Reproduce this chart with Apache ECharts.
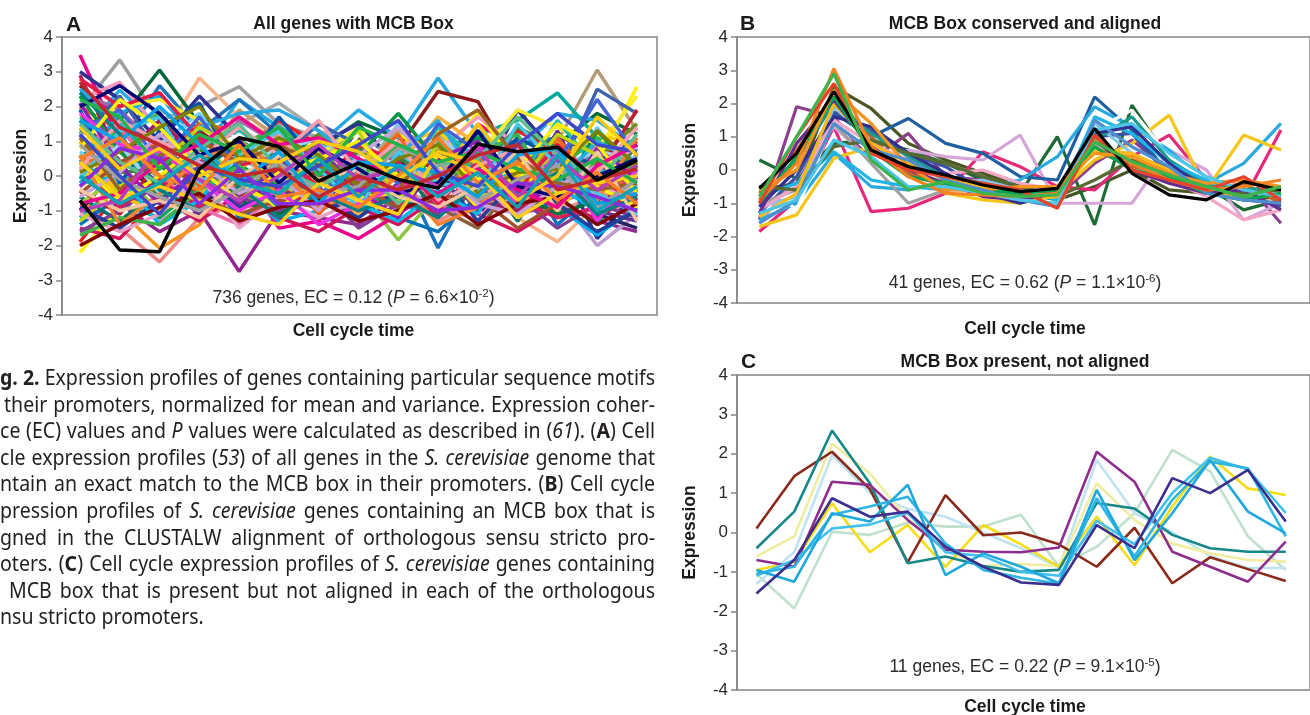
<!DOCTYPE html>
<html><head><meta charset="utf-8">
<script src="https://cdn.jsdelivr.net/npm/echarts@6/dist/echarts.min.js"></script>
<style>html,body{margin:0;padding:0;background:#fff;}#c{width:1310px;height:715px;}</style>
</head><body><div id="c"></div>
<script>
// ---------------- DATA ----------------
const timePoints = [0,1,2,3,4,5,6,7,8,9,10,11,12,13,14];
const yTicks = [-4,-3,-2,-1,0,1,2,3,4];

const panelTitles = ['All genes with MCB Box','MCB Box conserved and aligned','MCB Box present, not aligned'];
const panelLetters = ['A','B','C'];
const statGenes = ['736 genes, EC = 0.12 (','41 genes, EC = 0.62 (','11 genes, EC = 0.22 ('];
const statP = ['6.6×10','1.1×10','9.1×10'];
const statExp = ['-2','-6','-5'];

// Panel A (sample of the 736 profiles, black profile last)
const aValues = [
 [1.9,3.34,1.6,2.0,2.57,1.5,1.1,0.6,0.9,0.2,0.5,-0.2,0.4,0.3,-0.3],
 [0.8,1.2,1.9,1.3,1.5,2.1,1.3,0.8,0.2,-0.5,0.1,-0.6,-0.3,-0.9,-0.5],
 [-1.2,-0.8,-1.6,-1.0,-2.75,-1.0,-1.2,-1.4,-0.6,-0.9,-0.3,-1.1,-0.8,-1.3,-1.6],
 [1.0,0.2,1.0,2.82,1.7,1.0,0.3,0.5,-0.2,-0.6,0.3,-1.2,-1.89,-0.8,0.1],
 [-1.0,-1.5,-2.47,-1.2,-0.8,-1.1,-0.6,-1.0,-0.5,-1.3,-0.7,-0.3,-1.0,-0.6,-1.2],
 [0.5,1.6,3.05,1.5,1.0,0.2,0.8,1.56,1.1,0.6,1.3,0.3,0.9,1.8,1.2],
 [0.3,0.8,0.2,-0.5,0.4,0.9,0.1,-0.4,0.6,1.2,0.4,0.1,1.0,3.05,1.3],
 [1.2,2.47,1.4,0.6,2.2,1.4,0.9,1.9,1.1,2.82,1.2,0.7,1.8,1.6,0.8],
 [2.6,1.6,0.9,1.3,0.5,0.0,-0.4,0.3,0.8,2.43,2.14,0.2,1.2,0.5,0.6],
 [-0.3,0.9,2.6,1.3,2.2,1.2,0.7,-0.2,0.3,-2.07,0.1,0.9,1.1,-0.4,0.3],
 [0.2,-0.4,0.6,1.1,0.3,-0.5,0.2,1.0,0.6,0.5,1.2,1.6,2.39,1.1,0.5],
 [1.3,0.2,1.1,0.7,0.2,-0.6,-0.9,-0.4,-1.84,-0.5,0.7,0.2,-0.3,0.9,0.4],
 [3.48,1.0,0.5,-0.4,0.2,-1.5,-1.3,-1.8,-1.1,-0.3,1.5,0.8,0.3,-0.6,-0.2],
 [-0.9,-0.4,-1.3,-0.6,-1.0,-0.2,0.4,-0.9,-0.3,-0.9,-0.2,-1.0,-0.5,-2.0,-1.1],
 [3.0,2.2,1.0,2.3,1.1,0.5,0.9,1.5,0.3,0.9,-0.3,1.9,0.6,-1.8,-0.4],
 [-2.2,-0.9,-0.3,0.4,-0.4,-0.7,-0.9,0.3,1.2,0.6,1.8,0.3,-0.2,0.4,2.57],
 [-0.8,-1.0,-2.08,-1.4,0.1,0.0,-0.3,0.5,-0.6,0.4,-0.4,0.6,1.0,-0.2,0.1],
 [0.1,-0.3,-0.8,-0.9,0.08,0.08,-0.4,-0.2,0.9,1.3,0.2,-0.5,0.5,1.2,0.9],
 [2.2,2.7,1.3,0.9,0.3,1.2,-0.1,0.4,1.0,0.7,1.7,0.9,0.1,0.6,-0.3],
 [-1.9,-0.4,0.8,1.1,0.6,1.6,0.9,-0.1,-0.4,0.8,0.1,1.3,0.7,0.2,1.0],
 [1.4,0.8,0.1,-0.7,0.6,-0.2,0.7,1.1,0.4,-0.9,-1.5,-0.2,0.6,0.3,-0.6],
 [0.4,1.8,2.3,1.0,-0.4,-1.3,-1.0,-0.5,0.2,0.5,-0.8,-0.4,-0.9,-1.7,-0.9],
 [0.9,0.5,-0.6,-0.2,-0.9,0.4,1.2,0.2,-0.7,-0.1,0.7,-0.8,-0.2,0.5,1.5],
 [-0.5,-1.2,0.1,1.9,-0.5,0.9,0.2,0.6,-0.3,0.0,0.9,0.4,0.6,-0.4,0.7],
 [-1.4,-0.6,-0.9,0.3,-1.2,-0.8,0.1,-0.6,-1.2,-1.6,-0.6,0.5,-1.4,-0.4,-1.0],
 [1.7,1.1,1.8,0.4,0.9,1.4,0.6,-0.6,0.2,1.0,-0.3,0.7,0.2,1.1,0.2],
 [-0.2,0.6,-0.2,-1.1,-0.3,0.5,-0.6,-1.2,-0.2,0.3,-1.0,-0.7,1.3,-1.0,-1.3],
 [2.0,1.3,0.4,1.5,1.3,0.7,0.5,-0.7,-0.8,0.2,-0.9,0.0,-0.6,0.7,-0.8],
 [-0.6,-1.3,-0.4,0.2,0.9,0.3,-0.7,0.7,0.5,-1.2,0.3,-1.3,0.4,0.0,0.8],
 [0.7,-0.2,0.9,1.8,0.7,-0.4,1.0,0.0,1.5,0.3,-0.6,0.9,-0.8,1.4,-0.1],
 [-1.5,-1.8,-0.6,-1.3,-0.5,-1.2,-1.6,-0.9,-1.4,-0.6,-1.1,-1.6,-0.9,-1.2,-0.5],
 [0.0,-0.5,0.3,-0.4,-0.7,-1.1,-0.4,-0.9,0.1,-0.6,0.5,-0.5,-1.1,-0.7,-0.9],
 [1.5,2.0,2.2,1.6,0.8,-0.3,0.6,1.4,0.0,-0.3,0.6,1.9,1.4,0.8,2.3],
 [2.4,1.9,0.8,0.1,1.6,0.9,0.4,-0.3,-1.0,0.6,-0.5,-0.1,-0.8,-0.3,0.6],
 [1.1,2.3,0.6,-0.6,-0.1,0.5,1.5,0.9,0.7,-0.5,0.8,1.0,0.0,2.5,1.8],
 [-0.3,0.4,1.5,0.7,-0.8,0.6,-0.2,-1.1,0.3,1.7,0.9,-0.9,0.2,-0.5,-0.4],
 [0.6,-0.8,-1.2,-0.3,0.4,-0.8,-0.3,-0.4,-0.9,0.9,-0.2,0.4,-0.6,-1.4,0.3],
 [-1.0,0.3,-0.4,-0.8,-0.2,-0.4,-0.8,0.1,0.4,-0.2,0.0,-0.4,0.9,-1.1,-1.5],
 [0.9,1.4,0.0,-0.9,-1.4,-0.5,0.3,-0.6,0.7,-0.8,-1.3,0.2,-0.4,0.9,-0.7],
 [-1.2,-0.2,0.7,0.9,1.3,0.1,-0.5,0.4,-0.1,1.4,0.5,-0.2,1.6,0.2,-0.2],
 [2.9,0.5,1.6,0.5,-0.2,-0.7,0.2,-0.3,-0.6,0.1,-0.7,-1.0,0.0,-0.8,0.0],
 [0.2,1.0,-0.1,0.2,1.9,1.1,-0.2,0.2,1.3,0.8,0.0,0.5,-0.1,-0.9,0.6],
 [-0.8,0.0,-0.9,-0.1,-0.6,-0.9,0.7,-0.2,-0.4,0.4,-0.9,-0.3,0.7,-0.2,-0.8],
 [1.9,-0.2,1.3,2.1,0.1,1.7,0.3,1.0,-0.2,0.7,-0.1,1.1,0.5,0.4,1.1],
 [1.2,0.6,-1.0,0.6,1.2,0.3,-0.5,1.2,0.2,-0.4,-0.2,0.8,-0.5,0.5,-0.2],
 [-0.4,-1.1,0.5,-0.2,-0.6,0.2,0.0,-0.5,0.6,0.2,-0.5,-0.9,-0.3,0.1,1.9],
 [2.3,0.7,-0.3,1.2,0.3,-0.3,1.0,0.6,1.8,0.4,1.1,0.6,-0.7,1.3,0.1],
 [-1.6,-1.0,-0.2,0.6,-0.6,-1.0,-0.3,-1.5,-0.8,-1.1,-0.4,-0.6,-1.5,-0.8,-1.2],
 [0.0,0.9,-0.5,-0.3,0.5,0.7,1.1,0.3,-0.5,1.1,0.3,-0.4,0.3,0.7,0.5],
 [1.0,-0.6,-1.0,-0.5,0.2,1.0,0.5,0.9,-0.1,-0.1,1.5,0.0,-1.0,0.2,0.9],
 [0.4,-0.9,-0.1,-0.9,-0.4,-0.3,-1.0,-0.2,-0.8,-1.0,0.2,-0.7,-1.2,-0.9,-0.6],
 [-0.9,-1.5,-0.7,0.1,-0.9,-0.5,-0.6,-1.2,-0.4,0.1,-1.3,-0.1,-0.8,-1.6,-1.0],
 [0.5,0.3,1.0,-0.3,-0.3,0.3,-1.1,0.1,1.2,-0.7,0.6,-0.6,1.1,-0.3,0.4],
 [-0.2,0.0,-1.4,-0.7,0.7,-0.1,0.6,-0.8,-1.3,-0.4,-1.1,0.9,-0.3,-1.0,-0.3],
 [1.6,0.1,0.2,0.8,-0.3,0.8,-0.7,0.8,0.5,0.0,0.2,1.4,0.8,-0.6,0.9],
 [-1.1,-1.6,-1.1,0.0,-1.5,-0.6,-1.2,-0.7,0.3,-0.8,-0.1,-1.2,-0.1,-0.5,-0.3],
 [2.5,1.5,0.3,1.4,1.8,1.9,1.3,0.4,0.6,1.6,-0.1,0.3,-0.2,1.0,0.4],
 [-0.5,0.4,0.9,-0.6,-1.1,-0.7,-0.9,-0.3,-0.9,-0.6,-0.6,-1.5,-0.8,0.4,-0.4],
 [0.3,-0.7,0.0,0.9,-0.2,-0.9,-0.2,-0.6,-0.5,0.3,-0.9,0.1,-0.5,-0.3,-0.9],
 [2.8,2.0,2.4,1.1,0.3,0.6,-0.3,0.9,0.4,-0.8,0.4,-0.4,0.9,-0.1,-0.7],
 [-1.7,-1.2,-1.4,-0.4,0.3,-0.6,0.6,-0.1,0.9,-0.3,0.6,1.2,-0.7,0.5,0.2],
 [1.3,1.9,0.4,1.7,0.2,-0.9,-0.6,0.5,-0.2,1.5,0.7,-0.6,0.4,2.2,0.6],
 [0.6,-1.4,-0.5,0.5,1.0,0.2,-0.9,-0.5,0.0,-1.4,-0.9,0.3,-0.2,-0.7,1.1],
 [2.1,0.3,-0.8,0.3,-0.8,0.4,0.8,-0.4,-1.2,0.5,1.0,-0.2,-0.9,0.8,-0.1],
 [-0.1,1.3,1.7,-0.2,0.6,1.3,0.2,-0.9,0.7,-0.2,-0.4,1.5,0.3,-0.5,-1.1],
 [1.8,0.9,0.7,-0.1,-1.0,-0.4,-1.4,-0.8,-0.3,0.0,0.9,-0.9,0.7,-1.3,0.2],
 [-1.3,-0.3,0.3,1.4,0.8,-0.2,0.4,1.3,-0.7,0.9,-0.6,-0.3,1.2,0.6,-0.4],
 [0.2,1.6,1.0,0.5,1.4,0.6,1.6,0.1,1.0,-0.7,0.3,0.8,-0.4,0.1,1.4],
 [2.4,1.2,-0.4,-1.0,-0.3,-1.2,-0.5,-1.0,-0.6,-1.2,-0.2,-0.5,0.1,-1.1,-0.6],
 [-0.6,0.1,1.2,0.4,-0.5,0.0,-1.0,0.6,1.4,0.2,-0.8,-1.1,-0.3,0.3,0.8],
 [1.1,-0.4,0.6,1.0,0.4,0.9,0.3,-0.2,-0.4,1.2,1.9,0.5,-0.2,-0.4,-0.2],
 [0.8,2.2,1.4,0.2,-0.7,0.1,0.5,1.0,0.0,0.6,-0.1,0.2,1.5,0.9,-0.5],
 [-2.0,-1.4,-0.9,-0.5,-1.3,-0.9,-0.7,-1.3,-1.0,-0.5,-1.4,-0.8,-0.6,-1.4,-0.8],
 [1.5,0.4,-0.2,0.8,1.5,0.2,-0.3,0.3,-0.8,0.3,0.5,1.7,0.6,-0.2,1.2],
 [0.1,0.7,1.4,2.0,0.5,1.1,0.6,-0.3,0.5,0.9,-0.5,0.1,0.2,1.3,0.3],
 [-0.4,-1.0,-0.7,-1.2,0.0,0.6,-0.1,0.2,-0.6,-0.9,-0.3,0.7,-1.0,0.7,-1.3],
 [2.0,2.6,1.8,0.6,1.0,-0.2,0.8,0.2,-0.5,-0.2,1.3,-0.3,-0.6,0.0,0.5],
 [0.9,-0.1,-0.6,-1.0,-0.4,0.4,-0.5,-0.3,0.8,0.4,-0.7,-0.1,0.3,-0.9,-0.1],
 [-0.8,-0.5,0.4,0.9,1.7,0.9,1.1,0.5,-0.1,-0.5,0.2,-0.4,-0.9,0.3,0.9],
 [1.6,1.0,2.0,0.9,-0.2,0.7,-0.8,0.4,0.3,0.1,-0.6,0.6,0.8,-0.8,-0.5],
 [0.4,-0.6,-0.3,-0.7,-1.1,-1.4,-0.2,-0.7,-1.1,0.6,0.1,-1.2,-0.5,-0.2,0.0],
 [2.2,1.7,0.2,1.2,0.7,1.4,0.0,1.4,0.9,0.4,0.7,0.2,-0.1,0.5,-0.2],
 [-1.0,-0.7,0.9,-0.1,-0.7,0.0,0.9,-0.1,0.2,-0.3,0.8,-0.6,0.5,-0.4,0.3],
 [0.5,1.1,0.0,-0.4,0.9,-0.6,-0.4,-0.9,0.0,1.1,-0.2,0.4,-0.7,0.1,-0.8],
 [1.2,0.0,-1.1,0.3,-0.1,-0.3,0.3,0.9,1.6,0.1,-0.3,0.9,1.8,0.9,0.7],
 [-0.3,0.8,0.5,-0.8,0.2,-0.8,-0.8,-0.4,-0.4,-1.0,-0.9,-0.2,-0.3,-0.6,-1.0],
 [1.4,0.2,0.8,0.0,0.5,0.4,1.0,0.7,-0.1,0.7,0.4,-0.7,0.0,1.7,0.6],
 [0.0,-0.8,-0.2,0.6,-0.2,-0.5,0.5,-0.6,0.3,-0.6,0.1,-0.9,0.6,-1.0,-0.3],
 [2.7,1.4,0.9,0.3,0.0,0.2,-0.6,0.0,-0.4,0.0,0.6,0.9,-0.4,-0.1,0.2],
 [-0.7,-2.13,-2.18,0.2,1.1,0.85,-0.15,0.37,-0.1,-0.35,0.92,0.7,0.83,-0.12,0.45]
];
const aColors = ['#9d9fa2','#a7a9ac','#92278f','#f7b58a','#f08a86','#006838','#b39b76','#27aae1','#8b1a1a','#1c75bc',
 '#00a99d','#8dc63f','#ec008c','#bd9dd0','#2e3192','#fff200','#f7941d','#ffd200','#f49ac1','#ed1c24',
 '#8b5e3c','#00aeef','#6b8e23','#ffffff','#0072bc','#39b54a','#662d91','#f15a29','#00746b','#6dcff6',
 '#d4145a','#00703c','#f9ed32','#a864a8','#3f60ae','#fbb040','#00a651','#262262','#f06eaa','#1cbbb4',
 '#9e1f63','#c69c6d','#a6ce39','#0054a6','#ffffff','#be1e2d','#009444','#7f3f98','#9bd3f0','#ffc20e',
 '#da1c5c','#21409a','#f26522','#00b7eb','#3d7f3d','#e7a3c8','#29abe2','#a0522d','#fff200',
 '#e6194b','#3cb44b','#4363d8','#f58231','#911eb4','#46c8e8','#f032e6','#bcd60c','#f9a0b0','#008080',
 '#c9a0dc','#9a6324','#fff200','#800000','#5fbf8f','#808000','#f7c59f','#000075','#a0a0a0','#ed008c',
 '#00a2e8','#fdd017','#22b14c','#b83dba','#ff7f27','#3f48cc','#8a2be2','#ffc90e','#0ba3b6','#c1272d',
 '#000000'];

// Panel B (41 genes; black profile then green drawn on top)
const bValues = [
 [-0.6,-0.4,2.5,1.85,0.8,0.3,-0.1,-0.5,-0.9,-0.5,0.0,-0.6,-0.7,-0.9,-0.8],
 [0.3,-0.25,0.8,0.9,0.6,0.2,-0.3,-0.7,1.0,-1.65,1.95,0.3,-0.5,-1.2,-0.9],
 [-1.85,-0.9,1.3,-1.25,-1.15,-0.7,0.55,0.1,-0.5,-0.6,0.4,1.05,-0.3,-0.9,1.2],
 [-1.5,1.9,1.6,0.3,1.1,-0.2,-0.3,-0.5,-0.8,0.2,0.9,0.0,-0.4,-0.3,-1.6],
 [-1.6,-0.2,1.3,0.3,0.6,0.4,0.3,1.05,-1.0,-1.0,-1.0,0.6,0.0,-1.5,-1.0],
 [-1.2,-0.5,1.7,1.0,1.55,0.8,0.5,-0.2,-0.3,2.2,1.2,-0.1,-0.3,-0.6,-0.8],
 [-1.5,-1.0,0.5,-0.5,-0.6,-0.3,-0.5,-0.3,0.4,1.9,1.3,0.6,-0.4,0.2,1.4],
 [-1.7,-1.35,0.35,0.7,-0.2,-0.7,-0.9,-1.0,-0.7,0.3,0.8,1.65,-0.6,1.05,0.6],
 [-0.3,-1.2,1.5,0.5,-0.3,-0.4,-0.7,-0.8,-1.2,1.2,1.8,0.4,-0.3,-0.6,-0.4],
 [-1.3,-0.2,1.75,1.2,0.5,0.1,-0.6,-0.8,-0.6,1.0,1.1,-0.2,-0.7,-0.8,-1.1],
 [-1.0,-0.6,1.4,0.2,-1.0,-0.6,-0.6,-0.7,-0.5,0.8,0.3,-0.4,-0.6,-0.9,-0.6],
 [-1.1,-0.8,1.9,0.9,-0.1,-0.4,-0.3,-0.6,-0.8,1.4,0.5,-0.3,-0.5,-0.7,-0.7],
 [-0.7,0.6,2.2,1.0,-0.1,-0.5,-0.5,-0.7,-0.6,0.6,0.1,-0.1,-0.6,-0.4,-1.0],
 [-1.2,-0.5,1.5,0.8,0.3,-0.1,0.0,-0.4,-0.6,0.7,0.3,-0.3,-0.8,-1.5,-1.2],
 [-0.9,0.3,2.0,1.1,0.4,-0.2,-0.4,-0.7,-0.9,0.9,1.6,0.3,-0.4,-0.6,-0.5],
 [-0.8,-0.4,0.55,-0.3,-0.5,-0.6,-0.5,-0.6,-0.9,1.6,1.1,0.2,-0.3,-0.9,-0.7],
 [-1.1,0.0,1.6,1.3,0.5,-0.1,-0.7,-1.0,-0.7,1.1,1.3,0.2,-0.6,-0.9,-1.0],
 [-0.5,-0.6,0.7,0.9,0.5,0.2,-0.2,-0.5,-0.8,-0.3,0.3,-0.1,-0.5,-0.7,-0.6],
 [-1.4,-0.7,2.0,0.8,0.2,-0.3,-0.5,-0.9,-0.8,0.6,0.5,0.0,-0.6,-0.9,-0.7],
 [-1.3,0.8,2.1,0.7,0.0,-0.4,-0.8,-0.9,-0.7,0.9,0.0,-0.4,-0.7,-0.6,-1.2],
 [-1.0,0.4,2.2,0.6,-0.2,-0.4,-0.6,-0.7,-0.6,0.7,0.0,-0.2,-0.7,-0.9,-0.7],
 [-0.6,0.0,2.4,1.4,0.1,-0.6,-0.6,-0.5,-0.5,0.5,0.4,-0.1,-0.4,-0.3,-0.5],
 [-1.6,-0.9,1.4,0.6,0.3,-0.3,-0.6,-0.9,-1.1,1.5,0.7,0.1,-0.7,-0.9,-1.0],
 [-1.3,-0.9,0.9,0.4,-0.5,-0.5,-0.7,-0.9,-1.0,1.2,1.4,0.5,-0.2,-0.6,-0.8],
 [-0.9,0.2,3.05,0.7,-0.2,-0.7,-0.75,-0.8,-0.7,0.9,0.2,-0.3,-0.6,-0.5,-0.3],
 [-1.0,1.0,2.6,0.5,0.0,-0.2,-0.4,-0.6,-1.15,1.05,0.0,-0.3,-0.6,-0.2,-0.9],
 [-0.55,0.5,2.36,0.6,0.1,-0.15,-0.45,-0.65,-0.55,1.25,-0.1,-0.75,-0.9,-0.35,-0.6],
 [-0.8,1.0,2.9,0.3,-0.6,-0.35,-0.7,-0.8,-0.75,0.85,0.25,-0.15,-0.5,-0.8,-0.5]
];
const bColors = ['#4a5524','#1e6b35','#e6287a','#8e3f8e','#d7a6d8','#1f5fa0','#29a9e0','#f5c518','#ffffff','#3a53a4',
 '#a0a0a0','#7fc6e8','#c8642a','#f4a6c6','#1a9a8a','#1fb5e8','#2e3192','#556b2f','#fdb913','#662d91',
 '#00a651','#f7941d','#4f8fcf','#4cc6e8','#f58220','#e8432a','#000000','#3cb44b'];

// Panel C (11 genes)
const cValues = [
 [-1.05,-1.93,0.02,-0.06,0.25,0.15,0.15,0.45,-0.87,-0.36,0.49,2.1,1.55,-0.1,-0.95],
 [-1.3,-0.5,1.97,1.0,0.6,0.4,0.0,-0.4,-0.9,1.84,0.5,0.0,-0.6,-0.9,-0.9],
 [-0.61,-0.1,2.26,1.5,0.35,-0.45,-0.85,-0.8,-0.85,1.25,0.32,-0.28,-0.53,-0.7,-0.74],
 [-0.95,-0.75,0.74,-0.5,0.19,-0.87,0.19,-0.3,-0.87,0.4,-0.83,0.66,1.93,1.12,0.95],
 [0.1,1.43,2.05,1.1,-0.76,0.95,-0.07,0.0,-0.3,-0.87,0.12,-1.29,-0.63,-0.93,-1.23],
 [-0.4,0.53,2.59,1.25,-0.78,-0.61,-0.85,-1.0,-0.95,0.75,0.61,-0.06,-0.4,-0.49,-0.49],
 [-0.7,-0.87,1.29,1.21,0.32,-0.44,-0.49,-0.5,-0.38,2.05,1.29,-0.49,-0.87,-1.25,-0.23],
 [-1.1,-0.7,0.1,0.2,0.5,-0.5,-0.6,-1.0,-1.1,0.3,-0.3,1.0,1.9,1.6,0.5],
 [-1.04,-0.87,0.45,0.66,0.91,-0.28,-0.95,-1.15,-1.3,0.87,-0.61,0.83,1.8,1.63,-0.1],
 [-0.95,-1.25,0.49,0.28,1.21,-1.08,-0.53,-0.87,-1.29,1.08,-0.7,0.49,1.84,0.53,-0.02],
 [-1.55,-0.7,0.87,0.4,0.53,-0.36,-0.87,-1.27,-1.33,0.19,-0.4,1.38,1.0,1.59,0.28]
];
const cColors = ['#bfe0cc','#bfe3f2','#f0eca0','#f5dc14','#8b2a1a','#17888a','#8e2d8e','#42c0ee','#2cb5e5','#1ea8de','#3a2e8f'];

// Caption (left part of the figure legend, cropped at the left edge)
const captionLines = [
 "*g. 2.* Expression profiles of genes containing particular sequence motifs",
 "their promoters, normalized for mean and variance. Expression coher-",
 "ce (EC) values and _P_ values were calculated as described in (_61_). (*A*) Cell",
 "cle expression profiles (_53_) of all genes in the _S. cerevisiae_ genome that",
 "ntain an exact match to the MCB box in their promoters. (*B*) Cell cycle",
 "pression profiles of _S. cerevisiae_ genes containing an MCB box that is",
 "gned in the CLUSTALW alignment of orthologous sensu stricto pro-",
 "oters. (*C*) Cell cycle expression profiles of _S. cerevisiae_ genes containing",
 "MCB box that is present but not aligned in each of the orthologous",
 "nsu stricto promoters."
];
const captionStartX = [0,4,0,0,0,0,0,0,9,0];

// ---------------- LAYOUT ----------------
const FONT = '"Liberation Sans", Arial, Helvetica, sans-serif';
const AX = '#858585';
const TXT = '#2b2b2b';
const grids = [
  {left:62, top:37, width:595, height:278, xmin:-0.452, xmax:14.503},
  {left:737, top:37, width:590, height:266, xmin:-0.6, xmax:14.78},
  {left:737, top:375, width:590, height:315, xmin:-0.514, xmax:14.642}
];
const lineWidths = [3.5, 3.2, 2.6];

const chart = echarts.init(document.getElementById('c'), null, {renderer:'canvas'});

const option = {
  animation:false,
  backgroundColor:'#ffffff',
  grid: grids.map(g => ({left:g.left, top:g.top, width:g.width, height:g.height, show:true,
      borderColor:AX, borderWidth:1.5, backgroundColor:'transparent', containLabel:false})),
  xAxis: grids.map((g,i) => ({type:'value', gridIndex:i, min:g.xmin, max:g.xmax,
      axisLine:{show:false}, axisTick:{show:false}, axisLabel:{show:false}, splitLine:{show:false}})),
  yAxis: grids.map((g,i) => ({type:'value', gridIndex:i, min:yTicks[0], max:yTicks[yTicks.length-1], interval:1,
      position:'left',
      axisLine:{show:true, onZero:false, lineStyle:{color:AX, width:1.5}},
      axisTick:{show:true, length:6, lineStyle:{color:AX, width:1.5}},
      axisLabel:{show:true, fontSize:17, color:TXT, fontFamily:FONT, margin:9},
      splitLine:{show:false}})),
  series: [],
  graphic: []
};

function addSeries(idx, valuesList, colors) {
  valuesList.forEach((vals, k) => {
    option.series.push({
      type:'line', xAxisIndex:idx, yAxisIndex:idx,
      data: vals.map((v, i) => [timePoints[i], v]),
      symbol:'none', showSymbol:false, silent:true, clip:true,
      lineStyle:{color:colors[k], width:lineWidths[idx]},
      itemStyle:{color:colors[k]},
      emphasis:{disabled:true}
    });
  });
}
addSeries(0, aValues, aColors);
addSeries(1, bValues, bColors);
addSeries(2, cValues, cColors);

// Panel texts
const letterPos = [[66,25],[740,24],[741,362]];
const titleY = [24,24,362];
const statY = [298,283,667];
const xTitleY = [331,329,707];
grids.forEach((g, i) => {
  const cx = g.left + (i === 0 ? g.width/2 - 6 : 288);
  option.graphic.push({type:'text', x:letterPos[i][0], y:letterPos[i][1], silent:true,
    style:{text:panelLetters[i], fontSize:21, fontWeight:'bold', fontFamily:FONT, fill:'#1a1a1a', align:'left', verticalAlign:'middle'}});
  option.graphic.push({type:'text', x:cx, y:titleY[i], silent:true,
    style:{text:panelTitles[i], fontSize:17.5, fontWeight:'bold', fontFamily:FONT, fill:'#1a1a1a', align:'center', verticalAlign:'middle'}});
  option.graphic.push({type:'text', x:cx, y:statY[i], silent:true,
    style:{text:'{n|' + statGenes[i] + '}{i|P}{n| = ' + statP[i] + '}{s|' + statExp[i] + '}{n|)}',
      align:'center', verticalAlign:'middle', fill:TXT,
      rich:{
        n:{fontSize:17.5, fontFamily:FONT, fill:TXT, lineHeight:20},
        i:{fontSize:17.5, fontFamily:FONT, fontStyle:'italic', fill:TXT, lineHeight:20},
        s:{fontSize:11.5, fontFamily:FONT, fill:TXT, lineHeight:12, verticalAlign:'top'}
      }}});
  option.graphic.push({type:'text', x:cx, y:xTitleY[i], silent:true,
    style:{text:'Cell cycle time', fontSize:17.5, fontWeight:'bold', fontFamily:FONT, fill:'#1a1a1a', align:'center', verticalAlign:'middle'}});
  option.graphic.push({type:'text', x:(i===0?21:690), y:g.top + g.height/2, rotation:Math.PI/2, silent:true,
    style:{text:'Expression', fontSize:17.5, fontWeight:'bold', fontFamily:FONT, fill:'#1a1a1a', align:'center', verticalAlign:'middle'}});
});

// Caption layout (justified, condensed humanist face)
const CAP_FONT = '"Noto Sans"';
const CAP_SIZE = 21;
const CAP_RIGHT = 655;
const CAP_Y0 = 379, CAP_DY = 26.6;
const mctx = document.createElement('canvas').getContext('2d');
function capFont(b, it) { return (it ? 'italic ' : 'normal ') + (b ? 'bold ' : 'normal ') + CAP_SIZE + 'px ' + CAP_FONT; }
function mw(t, b, it) { mctx.font = capFont(b, it); return mctx.measureText(t).width; }
function parseLine(line) {
  const words = []; let cur = []; let run = null; let b = false, it = false;
  function flushRun(){ if (run && run.t) cur.push(run); run = null; }
  for (const ch of line) {
    if (ch === '*') { flushRun(); b = !b; continue; }
    if (ch === '_') { flushRun(); it = !it; continue; }
    if (ch === ' ') { flushRun(); if (cur.length) words.push(cur); cur = []; continue; }
    if (!run) run = {t:'', b:b, it:it};
    run.t += ch;
  }
  flushRun(); if (cur.length) words.push(cur);
  return words;
}
const parsed = captionLines.map(parseLine);
const spaceW = mw(' ', false, false);
const wordW = w => w.reduce((s, r) => s + mw(r.t, r.b, r.it), 0);
let capScale = 1;
parsed.forEach((words, k) => {
  if (k === parsed.length - 1) return;
  const nat = words.reduce((s, w) => s + wordW(w), 0) + spaceW * (words.length - 1);
  capScale = Math.min(capScale, (CAP_RIGHT - captionStartX[k]) / nat);
});
const capChildren = [];
parsed.forEach((words, k) => {
  const last = k === parsed.length - 1;
  const total = words.reduce((s, w) => s + wordW(w), 0);
  const avail = (CAP_RIGHT - captionStartX[k]) / capScale;
  const gap = last ? spaceW : (avail - total) / (words.length - 1);
  let x = captionStartX[k] / capScale;
  const y = CAP_Y0 + CAP_DY * k;
  words.forEach(w => {
    w.forEach(r => {
      capChildren.push({type:'text', x:x, y:y, silent:true,
        style:{text:r.t, fontSize:CAP_SIZE, fontFamily:CAP_FONT, fontWeight:r.b?'bold':'normal',
          fontStyle:r.it?'italic':'normal', fill:'#231f20', align:'left', verticalAlign:'middle'}});
      x += mw(r.t, r.b, r.it);
    });
    x += gap;
  });
});
option.graphic.push({type:'group', x:0, y:0, scaleX:capScale, scaleY:1, silent:true, children:capChildren});

chart.setOption(option);
</script></body></html>
